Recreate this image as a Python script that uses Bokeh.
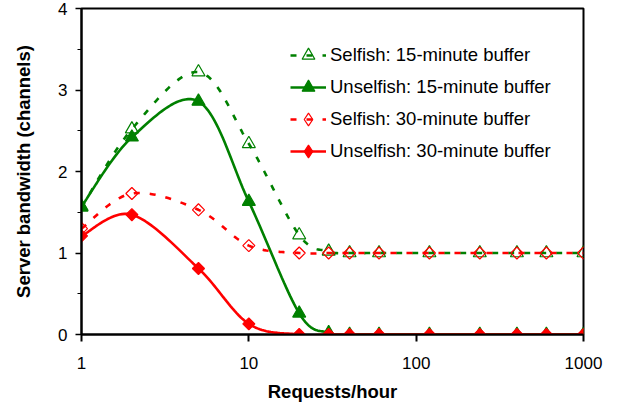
import numpy as np
from bokeh.plotting import figure
from bokeh.models import Legend, LegendItem, SingleIntervalTicker, FixedTicker, Range1d, ColumnDataSource
from bokeh.embed import file_html
from bokeh.resources import INLINE

# ---- data ----
requests = [1, 2, 5, 10, 20, 30, 40, 60, 120, 240, 400, 600, 1000]
selfish_15 = [1.56, 2.52, 3.22, 2.34, 1.22, 1.02, 1.0, 1.0, 1.0, 1.0, 1.0, 1.0, 1.0]
unselfish_15 = [1.57, 2.42, 2.86, 1.63, 0.26, 0.02, 0.0, 0.0, 0.0, 0.0, 0.0, 0.0, 0.0]
selfish_30 = [1.30, 1.73, 1.53, 1.09, 1.0, 1.0, 1.0, 1.0, 1.0, 1.0, 1.0, 1.0, 1.0]
unselfish_30 = [1.21, 1.47, 0.81, 0.13, 0.0, 0.0, 0.0, 0.0, 0.0, 0.0, 0.0, 0.0, 0.0]
labels = ["Selfish: 15-minute buffer", "Unselfish: 15-minute buffer",
          "Selfish: 30-minute buffer", "Unselfish: 30-minute buffer"]
x_ticks = [1, 10, 100, 1000]
x_tick_labels = ["1", "10", "100", "1000"]

FONT = "Liberation Sans"


def smooth(xs, ys, steps=24):
    """Excel-style smoothed line (Catmull-Rom Bezier) in log-x / linear-y space."""
    u = np.log10(np.asarray(xs, float))
    v = np.asarray(ys, float)
    n = len(u)
    P = np.column_stack([u, v])
    out = [P[0]]
    for i in range(n - 1):
        p0 = P[i - 1] if i > 0 else P[i]
        p1 = P[i]
        p2 = P[i + 1]
        p3 = P[i + 2] if i + 2 < n else P[i + 1]
        c1 = p1 + (p2 - p0) / 6.0
        c2 = p2 - (p3 - p1) / 6.0
        t = np.linspace(0, 1, steps + 1)[1:, None]
        pts = ((1 - t) ** 3) * p1 + 3 * ((1 - t) ** 2) * t * c1 + 3 * (1 - t) * t ** 2 * c2 + t ** 3 * p2
        out.extend(pts)
    out = np.array(out)
    return 10 ** out[:, 0], out[:, 1]


p = figure(width=610, height=407, x_axis_type="log",
           x_range=Range1d(1, 1000), y_range=Range1d(0, 4),
           output_backend="svg", toolbar_location=None,
           min_border_left=81, min_border_right=27, min_border_top=8, min_border_bottom=73)

p.background_fill_color = "white"
p.border_fill_color = "white"
p.grid.grid_line_color = None
p.outline_line_color = "black"
p.outline_line_width = 2
p.outline_line_alpha = 1.0

GREEN = "#008000"
RED = "#ff0000"

series = [
    (selfish_15, GREEN, "6 10", "triangle", None),
    (unselfish_15, GREEN, "solid", "triangle", GREEN),
    (selfish_30, RED, "6 10", "square", None),
    (unselfish_30, RED, "solid", "square", RED),
]

# a single off-screen point, only so the legend can draw a diamond glyph
offscreen = ColumnDataSource(data=dict(x=[1e-4], y=[-10.0]))

items = []
for (ys, col, dash, marker, fill), lab in zip(series, labels):
    sx, sy = smooth(requests, ys)
    lr = p.line(sx, sy, line_color=col, line_width=2.6, line_dash=dash)
    if marker == "triangle":
        sr = p.scatter(requests, ys, marker="triangle", size=13,
                       line_color=col, line_width=1.2,
                       fill_color=fill, fill_alpha=1.0 if fill else 0.0)
        leg_r = [lr, sr]
    else:
        sr = p.scatter(requests, ys, marker="square", size=8.5, angle=np.pi / 4,
                       line_color=col, line_width=1.2,
                       fill_color=fill, fill_alpha=1.0 if fill else 0.0)
        # legend-only diamond (legend ignores marker angle)
        dr = p.scatter(x="x", y="y", source=offscreen, marker="diamond", size=12,
                       line_color=col, line_width=1.2,
                       fill_color=fill, fill_alpha=1.0 if fill else 0.0)
        leg_r = [lr, dr]
    items.append(LegendItem(label=lab, renderers=leg_r))

legend = Legend(items=items, location=(209, 167))
legend.border_line_color = None
legend.background_fill_alpha = 0
legend.padding = 0
legend.margin = 0
legend.spacing = 0
legend.glyph_width = 36
legend.glyph_height = 32
legend.label_height = 32
legend.label_standoff = 4
legend.label_text_font = FONT
legend.label_text_font_size = "18.5px"
legend.label_text_color = "black"
p.add_layout(legend, "center")

# x axis
xa = p.xaxis[0]
xa.ticker = FixedTicker(ticks=x_ticks, minor_ticks=[])
xa.major_label_overrides = {t: l for t, l in zip(x_ticks, x_tick_labels)}
xa.axis_label = "Requests/hour"
xa.axis_line_width = 2
xa.axis_line_color = "black"
xa.major_tick_line_width = 2
xa.major_tick_line_color = "black"
xa.major_tick_out = 7
xa.major_tick_in = 0
xa.minor_tick_line_color = None
xa.major_label_standoff = 15
xa.axis_label_standoff = 9
xa.major_label_text_font = FONT
xa.major_label_text_font_size = "17px"
xa.major_label_text_color = "black"
xa.axis_label_text_font = FONT
xa.axis_label_text_font_size = "18.5px"
xa.axis_label_text_font_style = "bold"
xa.axis_label_text_color = "black"

# y axis
ya = p.yaxis[0]
ya.ticker = SingleIntervalTicker(interval=1, num_minor_ticks=2)
ya.axis_label = "Server bandwidth (channels)"
ya.axis_line_width = 2
ya.axis_line_color = "black"
ya.major_tick_line_width = 1.5
ya.major_tick_line_color = "black"
ya.major_tick_out = 6
ya.major_tick_in = 0
ya.minor_tick_line_color = "black"
ya.minor_tick_line_width = 1.2
ya.minor_tick_out = 4
ya.minor_tick_in = 0
ya.major_label_standoff = 8
ya.axis_label_standoff = 21
ya.major_label_text_font = FONT
ya.major_label_text_font_size = "17px"
ya.major_label_text_color = "black"
ya.axis_label_text_font = FONT
ya.axis_label_text_font_size = "18.5px"
ya.axis_label_text_font_style = "bold"
ya.axis_label_text_color = "black"

open("out.html", "w").write(file_html(p, INLINE))
